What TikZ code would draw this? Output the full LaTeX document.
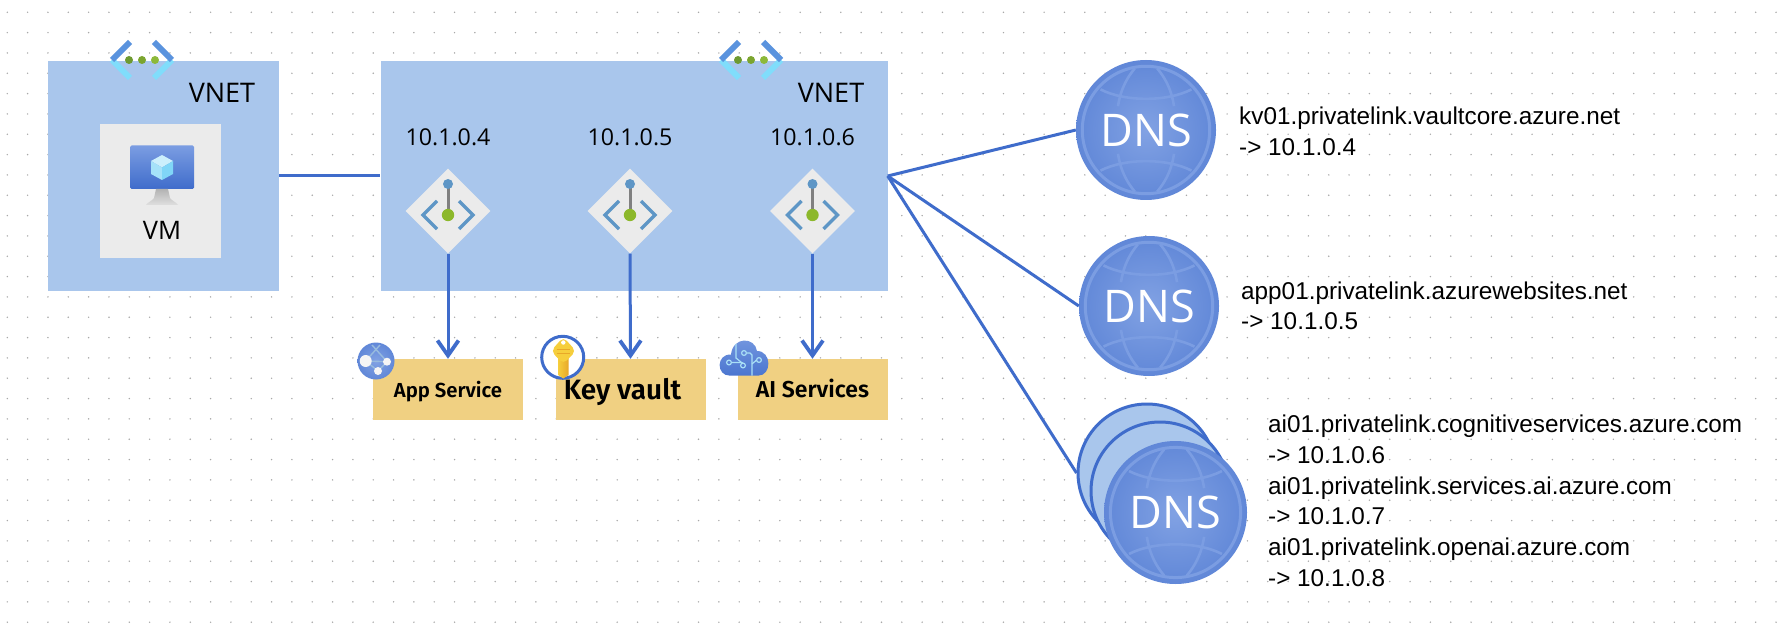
\documentclass[tikz,border=0pt]{standalone}
\usepackage{fontspec}
\setmainfont{Open Sans}
\newfontfamily\boxfont{Fira Sans}[BoldFont={Fira Sans SemiBold}]
\newfontfamily\urlfont{Liberation Sans}
\usetikzlibrary{shapes.geometric,arrows.meta,calc}
\definecolor{netblue}{HTML}{A9C6EC}
\definecolor{linkblue}{HTML}{3F6CCB}
\definecolor{tilegray}{HTML}{EBEBEB}
\definecolor{sandbox}{HTML}{F0D082}
\definecolor{griddot}{HTML}{A8A8A8}
\definecolor{ringblue}{HTML}{7B9DE2}
\definecolor{chevdark}{HTML}{5A93DE}
\definecolor{chevlight}{HTML}{80DDFB}
\definecolor{leafA}{HTML}{6E9A30}
\definecolor{leafB}{HTML}{7BA52F}
\definecolor{leafC}{HTML}{8DB93A}
\definecolor{plinkblue}{HTML}{5E96C6}
\definecolor{plinkgreen}{HTML}{8CB82B}
\definecolor{keygold}{HTML}{F6CE3C}
\definecolor{keydark}{HTML}{E8A828}
\definecolor{circuit}{HTML}{A9E0F6}
\pgfdeclareradialshading{dnsshade}{\pgfpoint{0bp}{0bp}}{color(0bp)=(ringblue!95!white); color(30bp)=(ringblue!45!linkblue); color(50bp)=(linkblue)}
\tikzset{
 vnet/.style={rectangle,fill=netblue,inner sep=0pt,minimum width=#1,minimum height=230pt},
 linkline/.style={draw=linkblue,line width=3pt},
 arrowline/.style={linkline,-{Straight Barb[length=15pt,width=21pt,line width=3.8pt]}},
 endpoint/.style={diamond,aspect=1,fill=tilegray,inner sep=0pt,minimum size=85pt},
 svcbox/.style={rectangle,fill=sandbox,inner sep=0pt,minimum width=150pt,minimum height=61pt},
 urltext/.style={anchor=base west,inner sep=0pt,font=\urlfont\fontsize{24.3}{28}\selectfont},
 iptext/.style={inner sep=0pt,font=\fontsize{23.2}{27}\selectfont},
 nettext/.style={inner sep=0pt,font=\fontsize{27}{32}\selectfont},
 dnscircle/.style={circle,inner sep=0pt,minimum size=#1,shading=dnsshade,text=white,font=\fontsize{45}{50}\selectfont},
 dnsback/.style={circle,inner sep=0pt,minimum size=138pt,fill=netblue,draw=linkblue,line width=3pt},
 pics/globe/.style={code={
   \begin{scope}[draw=ringblue,line width=2.6pt]
   \draw[line width=3pt] (0,0) circle[radius=#1*0.91];
   \draw (-#1*0.65,-#1*0.58) .. controls (-#1*0.3,-#1*0.4) and (#1*0.3,-#1*0.4) .. (#1*0.65,-#1*0.58);
   \draw (-#1*0.65,#1*0.58) .. controls (-#1*0.3,#1*0.4) and (#1*0.3,#1*0.4) .. (#1*0.65,#1*0.58);
   \draw (-#1*0.4,-#1*0.34) .. controls (-#1*0.36,-#1*0.6) and (-#1*0.26,-#1*0.76) .. (-#1*0.16,-#1*0.88);
   \draw (#1*0.4,-#1*0.34) .. controls (#1*0.36,-#1*0.6) and (#1*0.26,-#1*0.76) .. (#1*0.16,-#1*0.88);
   \draw (-#1*0.4,#1*0.34) .. controls (-#1*0.36,#1*0.6) and (-#1*0.26,#1*0.76) .. (-#1*0.16,#1*0.88);
   \draw (#1*0.4,#1*0.34) .. controls (#1*0.36,#1*0.6) and (#1*0.26,#1*0.76) .. (#1*0.16,#1*0.88);
   \end{scope}
 }},
 pics/vneticon/.style={code={
   \draw[line width=6pt,draw=chevlight] (-12,18) -- (-30,0) (12,18) -- (30,0);
   \draw[line width=6pt,draw=chevdark] (-12,-18) -- (-30,0) (12,-18) -- (30,0);
   \fill[leafA] (-13,0) circle[radius=4];
   \fill[leafB] (0,0) circle[radius=4];
   \fill[leafC] (13,0) circle[radius=4];
 }},
 pics/plink/.style={code={
   \draw[line width=3pt,draw=gray] (0,-27) -- (0,4);
   \fill[plinkblue] (0,-27) circle[radius=5];
   \fill[plinkgreen] (0,4) circle[radius=6.2];
   \draw[line width=3.5pt,draw=plinkblue] (-11,-10) -- (-25,4) -- (-11,18) (11,-10) -- (25,4) -- (11,18);
 }},
}
\begin{document}
\begin{tikzpicture}[x=1pt,y=-1pt]
\useasboundingbox (0,0) rectangle (1786,631);
\fill[white] (0,0) rectangle (1786,631);
\foreach \i in {0,...,87}{\foreach \j in {0,...,30}{
  \fill[griddot] (7.3+\i*20.33,12.3+\j*20.33) circle[radius=0.8];}}
% VNETs
\node[vnet=231pt] (vnetA) at (163.5,176) {};
\node[vnet=507pt] (vnetB) at (634,176) {};
\pic at (142,60) {vneticon};
\pic at (751,60) {vneticon};
\node[nettext] (vnetAlabel) at (222,93) {VNET};
\node[nettext] (vnetBlabel) at (831,93) {VNET};
% VM tile
\node[rectangle,fill=tilegray,inner sep=0pt,minimum width=121pt,minimum height=134pt] (vmtile) at (160.5,191) {};
\shade[top color=ringblue,bottom color=linkblue,rounded corners=1.5pt] (130,145.5) rectangle (194,189);
\shade[top color=gray!60,bottom color=gray!25] (156,189) -- (168,189) -- (170,198) .. controls (172,201) and (176,202) .. (178,205) -- (146,205) .. controls (148,202) and (152,201) .. (154,198) -- cycle;
\fill[cyan!20!white] (162,155) -- (173,161) -- (162,167.5) -- (151,161) -- cycle;
\fill[cyan!35!white] (151,161) -- (162,167.5) -- (162,180) -- (151,174) -- cycle;
\fill[cyan!50!white] (173,161) -- (162,167.5) -- (162,180) -- (173,174) -- cycle;
\node[nettext,font=\fontsize{25.5}{30}\selectfont] (vmlabel) at (162,230) {VM};
% endpoints
\node[iptext] (ipA) at (448,137) {10.1.0.4};
\node[iptext] (ipB) at (630,137) {10.1.0.5};
\node[iptext] (ipC) at (812.5,137) {10.1.0.6};
\node[endpoint] (epA) at (448,211) {};
\node[endpoint] (epB) at (630,211) {};
\node[endpoint] (epC) at (812.5,211) {};
\pic at (448,211) {plink};
\pic at (630,211) {plink};
\pic at (812.5,211) {plink};
% services
\node[svcbox] (app) at (448,389.5) {};
\node[svcbox] (kv) at (630.5,389.5) {};
\node[svcbox] (ai) at (812.5,389.5) {};
\node[inner sep=0pt,font=\boxfont\bfseries\fontsize{20.3}{24}\selectfont] (applabel) at (448,391.5) {App Service};
\node[inner sep=0pt,font=\boxfont\bfseries\fontsize{28}{32}\selectfont] (kvlabel) at (622.5,392) {Key vault};
\node[inner sep=0pt,font=\boxfont\bfseries\fontsize{23}{27}\selectfont] (ailabel) at (812.5,388.5) {AI Services};
% app service icon
\node[circle,inner sep=0pt,minimum size=37pt,shading=dnsshade] (appicon) at (376,361) {};
\draw[line width=1.4pt,draw=cyan!15!netblue] (365.7,361) -- (387,361.7) -- (378,371) -- (365.7,361) (365.7,361) -- (380,345) (387,361.7) -- (372,345);
\fill[white!92!gray] (365.7,361) circle[radius=6];
\fill[white!92!gray] (387,361.7) circle[radius=4];
\fill[white!92!gray] (378,371) circle[radius=4];
% key icon
\node[circle,inner sep=0pt,minimum size=42pt,fill=white,draw=linkblue,line width=3pt] (keyicon) at (562.7,357.3) {};
\shade[left color=keygold,right color=keydark] (558,358) -- (568.5,358) -- (568.5,375) -- (563.3,378.5) -- (558,375) -- cycle;
\fill[keygold,rounded corners=5pt] (563.3,337) -- (576,351) -- (563.3,364) -- (551,351) -- cycle;
\fill[white] (563.3,342.5) circle[radius=2.2];
\draw[keydark,line width=1pt] (556.5,349.5) -- (570,349.5) (556.5,353.5) -- (570,353.5);
% cloud icon
\shade[top color=ringblue!90!linkblue,bottom color=linkblue!80!ringblue]
 (730,375.7) .. controls (716,375.7) and (716,354) .. (731,354.5)
 .. controls (733,336) and (755,337) .. (757,351)
 .. controls (772,351) and (772,375.7) .. (758,375.7) -- cycle;
\begin{scope}[draw=circuit,line width=1.2pt]
\draw (736,344) -- (736,358) -- (741.5,362.5) -- (743,363);
\draw (729,362.5) circle[radius=2.4] (731.4,362.5) -- (741.5,362.5);
\draw (744,353) circle[radius=2.4] (746.4,353) -- (750,353) -- (752,355) -- (752,375.7);
\draw (759,360) circle[radius=2.4] (756.6,360) -- (752,364);
\draw (743,365.5) circle[radius=2.4];
\end{scope}
% DNS
\node[dnsback] (dnsCback) at (1147,473) {};
\node[dnsback] (dnsCmid) at (1160,491) {};
\node[dnscircle=140pt] (dnsA) at (1146,130) {DNS};
\pic at (1146,130) {globe=70};
\node[dnscircle=140pt] (dnsB) at (1149,306) {DNS};
\pic at (1149,306) {globe=70};
\node[dnscircle=143pt] (dnsC) at (1175.5,512.5) {DNS};
\pic at (1175.5,512.5) {globe=71.5};
% connectors
\draw[linkline] (vnetA.east) -- (vnetB.west);
\draw[linkline] (vnetB.east) -- (dnsA.west);
\draw[linkline] (vnetB.east) -- (dnsB.west);
\draw[linkline] (vnetB.east) -- (dnsCback.west);
\draw[arrowline] (epA.south) -- (app.north);
\draw[arrowline] (epB.south) -- (kv.north);
\draw[arrowline] (epC.south) -- (ai.north);
% texts
\node[urltext] (t1) at (1239,124.4) {kv01.privatelink.vaultcore.azure.net};
\node[urltext] (t2) at (1239,155.2) {-> 10.1.0.4};
\node[urltext] (t3) at (1241,299) {app01.privatelink.azurewebsites.net};
\node[urltext] (t4) at (1241,329.8) {-> 10.1.0.5};
\node[urltext] (t5) at (1268,432.6) {ai01.privatelink.cognitiveservices.azure.com};
\node[urltext] (t6) at (1268,463.4) {-> 10.1.0.6};
\node[urltext] (t7) at (1268,494) {ai01.privatelink.services.ai.azure.com};
\node[urltext] (t8) at (1268,524.8) {-> 10.1.0.7};
\node[urltext] (t9) at (1268,555.6) {ai01.privatelink.openai.azure.com};
\node[urltext] (t10) at (1268,586.4) {-> 10.1.0.8};
\end{tikzpicture}
\end{document}
